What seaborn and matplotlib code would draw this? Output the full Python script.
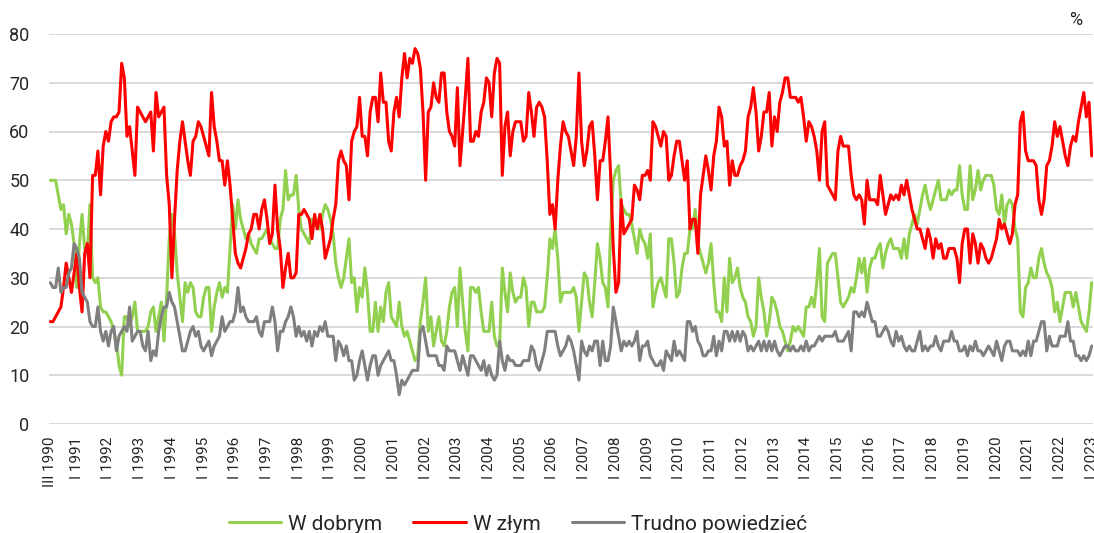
import pandas as pd
import seaborn as sns
import matplotlib.pyplot as plt

# miesięczne odczyty, III 1990 - I 2023 (w %)
dobrym = [
    50, 50, 50, 47, 44, 45, 39, 43, 41, 37,              # 1990 (III-XII)
    28, 37, 43, 36, 35, 45, 30, 29, 30, 24, 23, 23,      # 1991
    22, 21, 19, 17, 12, 10, 22, 22, 20, 22, 25, 19,      # 1992
    19, 19, 19, 20, 23, 24, 19, 22, 25, 17, 26, 38,      # 1993
    43, 39, 31, 26, 21, 29, 27, 29, 28, 23, 22, 22,      # 1994
    26, 28, 28, 19, 24, 27, 29, 26, 28, 27, 36, 45,      # 1995
    40, 46, 42, 40, 38, 39, 37, 36, 35, 38, 38, 39,      # 1996
    40, 38, 37, 36, 36, 42, 44, 52, 46, 47, 47, 51,      # 1997
    44, 40, 39, 38, 37, 42, 42, 41, 40, 43, 45, 44,      # 1998
    42, 39, 33, 30, 28, 30, 34, 38, 29, 30, 23, 28,      # 1999
    26, 32, 27, 19, 19, 25, 19, 24, 21, 27, 29, 22,      # 2000
    21, 20, 25, 20, 18, 19, 17, 15, 13, 14, 21, 25,      # 2001
    30, 19, 22, 16, 19, 22, 17, 16, 19, 24, 27, 28,      # 2002
    20, 32, 25, 19, 15, 28, 28, 27, 28, 23, 19, 19,      # 2003
    19, 25, 18, 16, 16, 32, 27, 23, 31, 27, 25, 26,      # 2004
    26, 30, 28, 20, 25, 25, 23, 23, 23, 24, 30, 38,      # 2005
    36, 40, 34, 25, 27, 27, 27, 27, 28, 26, 19, 25,      # 2006
    31, 30, 25, 22, 29, 37, 34, 29, 28, 24, 40, 50,      # 2007
    52, 53, 45, 44, 43, 43, 41, 38, 35, 40, 38, 37,      # 2008
    34, 39, 24, 27, 29, 30, 28, 26, 38, 38, 33, 26,      # 2009
    27, 32, 35, 35, 40, 40, 44, 37, 35, 33, 31, 33,      # 2010
    37, 29, 23, 23, 21, 30, 23, 34, 29, 30, 32, 28,      # 2011
    26, 25, 22, 21, 18, 20, 30, 26, 23, 18, 21, 26,      # 2012
    25, 23, 20, 19, 17, 15, 17, 20, 19, 20, 19, 18,      # 2013
    24, 24, 26, 24, 29, 36, 22, 21, 33, 34, 35, 35,      # 2014
    30, 25, 24, 25, 26, 28, 27, 30, 34, 31, 34, 27,      # 2015
    32, 34, 34, 36, 37, 32, 35, 37, 38, 36, 36, 36,      # 2016
    34, 38, 34, 39, 41, 43, 41, 44, 47, 49, 46, 44,      # 2017
    46, 48, 50, 46, 46, 46, 48, 47, 48, 48, 53, 47,      # 2018
    44, 44, 53, 46, 48, 52, 48, 50, 51, 51, 51, 49,      # 2019
    44, 43, 47, 41, 45, 46, 45, 40, 38, 23, 22, 28,      # 2020
    29, 32, 30, 30, 34, 36, 33, 31, 30, 28, 23, 25,      # 2021
    21, 24, 27, 27, 27, 24, 27, 24, 21, 20, 19, 23,      # 2022
    29,                                                  # 2023
]

zlym = [
    21, 21, 22, 23, 24, 28, 33, 30, 27, 31,              # 1990
    35, 28, 23, 35, 37, 30, 51, 51, 56, 47, 57, 60,      # 1991
    58, 62, 63, 63, 64, 74, 71, 59, 61, 56, 51, 65,      # 1992
    64, 63, 62, 63, 64, 56, 68, 63, 64, 65, 51, 45,      # 1993
    30, 42, 52, 58, 62, 58, 54, 51, 58, 59, 62, 61,      # 1994
    59, 57, 55, 68, 61, 58, 54, 54, 49, 54, 49, 42,      # 1995
    35, 33, 32, 34, 36, 39, 40, 43, 43, 40, 44, 46,      # 1996
    42, 37, 39, 49, 40, 36, 28, 32, 35, 30, 30, 31,      # 1997
    43, 43, 44, 43, 42, 38, 43, 40, 43, 40, 34, 36,      # 1998
    38, 42, 45, 54, 56, 54, 53, 46, 58, 60, 61, 67,      # 1999
    59, 59, 55, 64, 67, 67, 62, 72, 66, 66, 58, 56,      # 2000
    64, 67, 63, 71, 76, 71, 75, 74, 77, 76, 73, 64,      # 2001
    50, 64, 65, 70, 67, 66, 72, 72, 64, 60, 59, 57,      # 2002
    69, 53, 60, 67, 75, 58, 58, 60, 59, 64, 66, 71,      # 2003
    70, 63, 72, 75, 74, 51, 61, 64, 55, 60, 62, 62,      # 2004
    62, 58, 59, 68, 64, 59, 65, 66, 65, 63, 54, 43,      # 2005
    45, 40, 50, 57, 62, 60, 59, 56, 53, 59, 72, 58,      # 2006
    53, 56, 61, 62, 55, 46, 54, 54, 58, 63, 51, 36,      # 2007
    27, 29, 46, 39, 40, 41, 42, 49, 48, 46, 51, 51,      # 2008
    52, 50, 62, 61, 59, 57, 60, 59, 50, 51, 55, 58,      # 2009
    58, 54, 50, 54, 40, 42, 42, 35, 47, 51, 55, 52,      # 2010
    48, 55, 58, 65, 63, 57, 58, 49, 54, 51, 51, 53,      # 2011
    54, 56, 63, 65, 69, 64, 56, 59, 64, 64, 68, 57,      # 2012
    63, 60, 66, 68, 71, 71, 67, 67, 67, 66, 67, 63,      # 2013
    58, 62, 61, 59, 56, 50, 60, 62, 49, 48, 47, 46,      # 2014
    56, 59, 57, 57, 57, 51, 47, 46, 47, 46, 41, 50,      # 2015
    46, 46, 46, 45, 51, 47, 43, 45, 47, 46, 47, 46,      # 2016
    49, 47, 50, 47, 44, 42, 40, 40, 38, 36, 40, 38,      # 2017
    34, 38, 36, 37, 34, 34, 36, 36, 36, 34, 29, 37,      # 2018
    40, 40, 33, 39, 37, 33, 37, 36, 34, 33, 34, 36,      # 2019
    38, 42, 40, 41, 39, 37, 39, 45, 47, 62, 64, 56,      # 2020
    54, 54, 54, 53, 46, 43, 46, 53, 54, 57, 62, 59,      # 2021
    61, 58, 55, 53, 57, 59, 58, 62, 65, 68, 63, 66,      # 2022
    55,                                                  # 2023
]

trudno = [
    29, 28, 28, 32, 27, 28, 28, 31, 32, 37,              # 1990
    36, 34, 27, 26, 25, 21, 20, 20, 24, 19, 17, 19,      # 1991
    16, 19, 20, 15, 18, 19, 20, 19, 24, 17, 18, 19,      # 1992
    19, 16, 15, 19, 13, 15, 14, 19, 22, 24, 24, 27,      # 1993
    25, 24, 21, 18, 15, 15, 17, 19, 20, 18, 19, 16,      # 1994
    15, 16, 17, 14, 16, 17, 18, 22, 19, 20, 21, 21,      # 1995
    23, 28, 23, 24, 22, 21, 21, 21, 22, 19, 18, 21,      # 1996
    21, 21, 24, 21, 15, 19, 19, 21, 22, 24, 22, 18,      # 1997
    20, 18, 19, 17, 19, 16, 19, 18, 20, 19, 21, 18,      # 1998
    18, 18, 13, 17, 16, 14, 16, 13, 13, 9, 10, 13,       # 1999
    15, 12, 9, 12, 14, 14, 10, 12, 13, 14, 15, 13,       # 2000
    13, 10, 6, 9, 8, 9, 10, 11, 11, 11, 19, 20,          # 2001
    17, 14, 14, 14, 14, 12, 12, 11, 16, 15, 15, 15,      # 2002
    13, 11, 14, 12, 10, 14, 14, 13, 12, 11, 13, 10,      # 2003
    12, 10, 9, 10, 17, 13, 11, 14, 13, 13, 12, 12,       # 2004
    12, 13, 13, 13, 16, 15, 12, 11, 13, 15, 19, 19,      # 2005
    19, 19, 16, 14, 15, 16, 18, 17, 15, 12, 9, 17,       # 2006
    15, 14, 16, 15, 17, 17, 12, 17, 13, 13, 16, 24,      # 2007
    21, 18, 15, 17, 16, 17, 16, 17, 19, 13, 16, 16,      # 2008
    17, 14, 13, 12, 12, 13, 11, 15, 14, 13, 17, 14,      # 2009
    15, 14, 13, 21, 21, 19, 20, 17, 16, 14, 14, 15,      # 2010
    15, 18, 14, 17, 15, 19, 19, 17, 19, 17, 19, 17,      # 2011
    19, 18, 15, 16, 15, 16, 17, 15, 17, 15, 17, 15,      # 2012
    17, 15, 14, 15, 16, 16, 15, 16, 15, 15, 16, 15,      # 2013
    17, 15, 16, 16, 17, 18, 17, 18, 18, 18, 18, 19,      # 2014
    17, 17, 17, 18, 19, 15, 23, 23, 22, 23, 22, 25,      # 2015
    23, 21, 21, 18, 18, 19, 20, 19, 17, 16, 19, 17,      # 2016
    18, 16, 15, 16, 15, 15, 17, 19, 15, 16, 15, 16,      # 2017
    16, 18, 16, 15, 17, 17, 17, 19, 17, 17, 15, 15,      # 2018
    16, 14, 16, 15, 17, 15, 15, 14, 15, 16, 15, 14,      # 2019
    17, 15, 13, 16, 17, 17, 15, 15, 15, 14, 15, 14,      # 2020
    17, 14, 17, 17, 19, 21, 21, 15, 18, 16, 16, 16,      # 2021
    18, 18, 18, 21, 17, 17, 14, 14, 13, 14, 13, 14,      # 2022
    16,                                                  # 2023
]

etykiety_x = ["III 1990"] + [f"I {rok}" for rok in range(1991, 2024)]
pozycje_x = [0] + [10 + 12 * k for k in range(33)]

serie = ["W dobrym", "W złym", "Trudno powiedzieć"]
kolory = {"W dobrym": "#92D050", "W złym": "#FF0000", "Trudno powiedzieć": "#7F7F7F"}

n = len(dobrym)
df = pd.DataFrame({"t": range(n), "W dobrym": dobrym, "W złym": zlym, "Trudno powiedzieć": trudno})
dlugi = df.melt(id_vars="t", var_name="odp", value_name="proc")

sns.set_style("white")
plt.rcParams['font.family'] = ['Roboto', 'DejaVu Sans']

W, H = 1094, 533
fig = plt.figure(figsize=(W / 100, H / 100), dpi=100)
ax = fig.add_axes([49 / W, 1 - 424 / H, (1093 - 49) / W, (424 - 34) / H])

sns.lineplot(data=dlugi, x="t", y="proc", hue="odp", hue_order=serie,
             palette=kolory, linewidth=2.2, ax=ax)

ax.set_xlim(-0.5, n - 0.5)
ax.set_ylim(0, 80)
ax.set_yticks(range(0, 81, 10))
ax.set_xticks(pozycje_x)
ax.set_xticklabels(etykiety_x, rotation=90, fontsize=11, color="#262626")
ax.tick_params(axis="y", labelsize=13, labelcolor="#262626", length=0, pad=14)
ax.tick_params(axis="x", length=0, pad=9)
ax.set_xlabel("")
ax.set_ylabel("")
ax.yaxis.grid(True, color="#D9D9D9", linewidth=1.4)
ax.set_axisbelow(True)
for s in ax.spines.values():
    s.set_visible(False)

uchwyty, opisy = ax.get_legend_handles_labels()
ax.get_legend().remove()
fig.legend(uchwyty, opisy, loc="center", bbox_to_anchor=(518 / W, 1 - 524 / H),
           ncol=3, frameon=False, fontsize=15, handlelength=2.5,
           handletextpad=0.35, columnspacing=1.5)

fig.text(1076 / W, 1 - 20 / H, "%", ha="center", va="center", fontsize=13, color="#262626")

fig.savefig("out.png", dpi=100)
